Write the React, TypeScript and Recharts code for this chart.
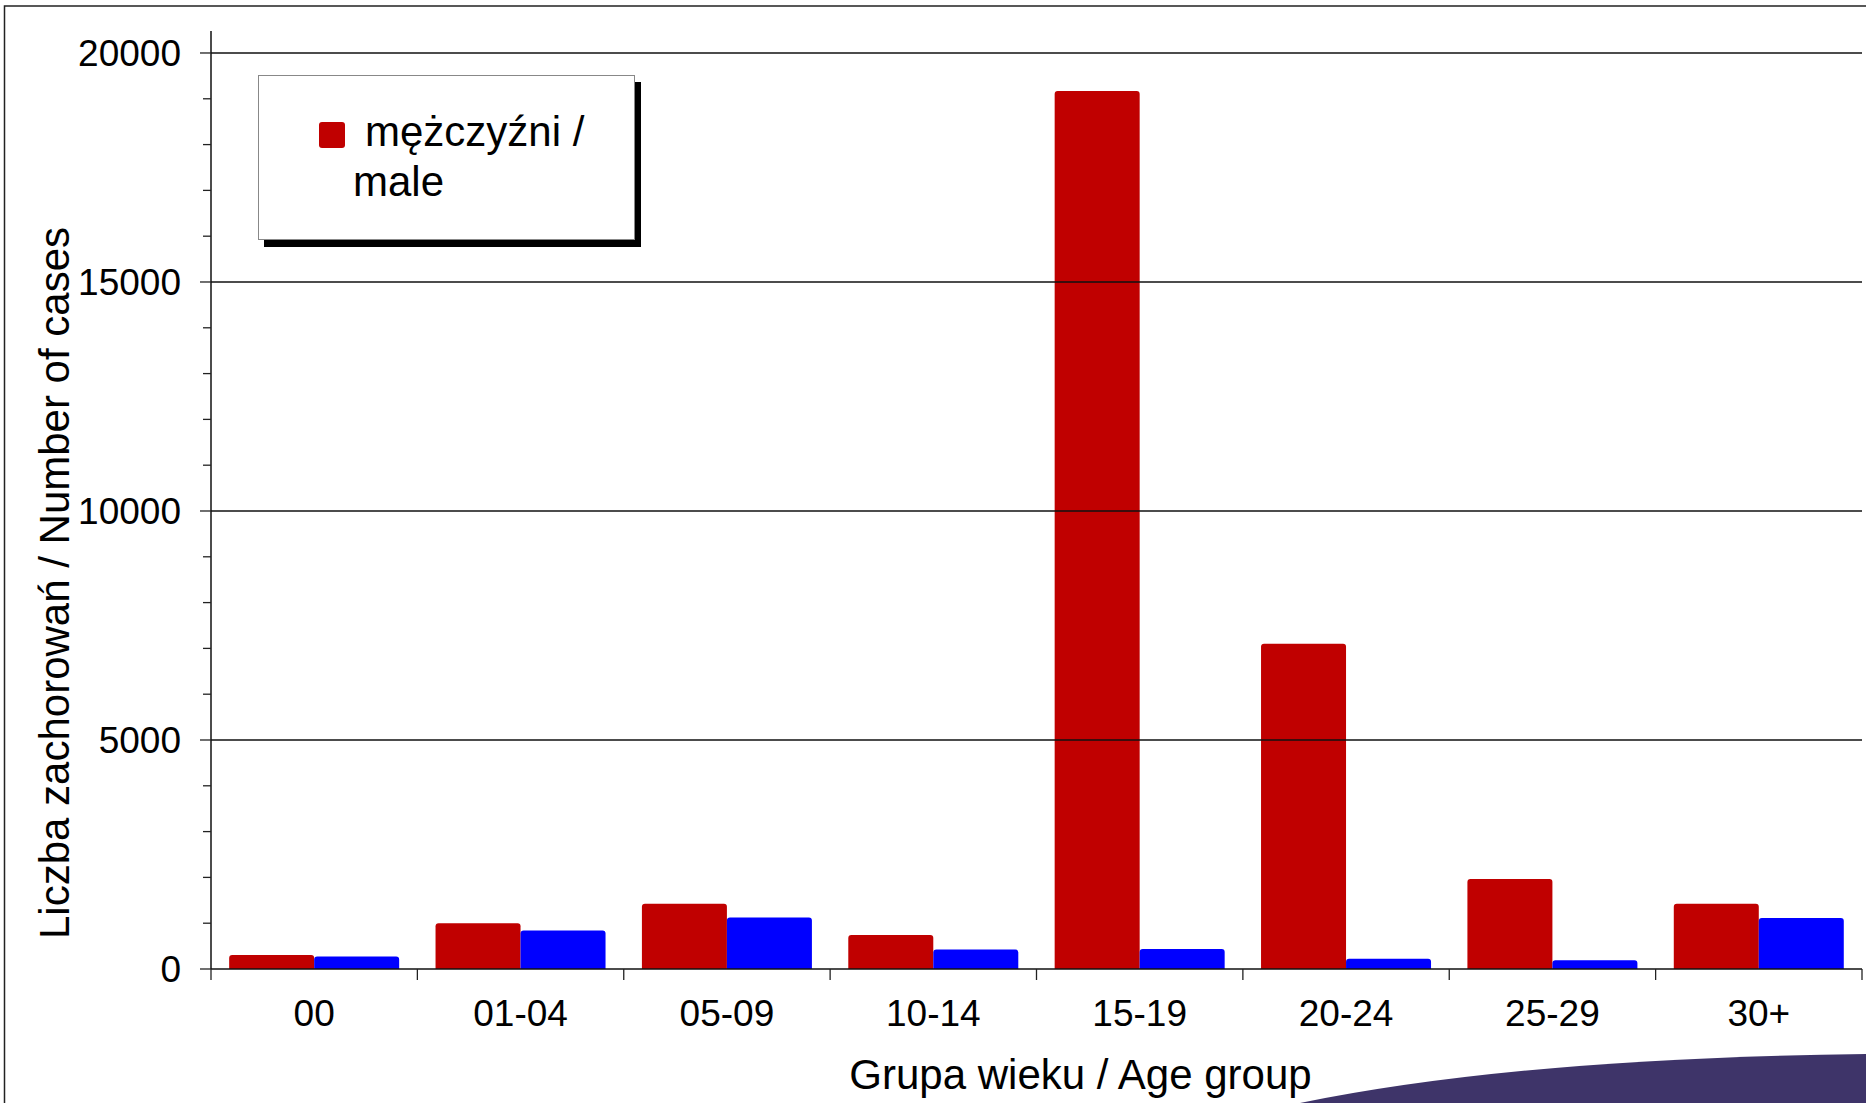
import React from 'react';
import { BarChart, Bar, XAxis, YAxis, ReferenceLine } from 'recharts';

const ageGroups = ['00', '01-04', '05-09', '10-14', '15-19', '20-24', '25-29', '30+'];
const maleCases = [305, 1000, 1425, 740, 19170, 7100, 1965, 1425];
const femaleCases = [275, 840, 1125, 425, 435, 225, 190, 1115];
const yTicks = [0, 1000, 2000, 3000, 4000, 5000, 6000, 7000, 8000, 9000, 10000, 11000, 12000, 13000, 14000, 15000, 16000, 17000, 18000, 19000, 20000];
const gridValues = [5000, 10000, 15000, 20000];

const data = ageGroups.map((g, i) => ({ group: g, male: maleCases[i], female: femaleCases[i] }));

const W = 1866;
const H = 1103;
const MARGIN = { top: 31, right: 4, left: 0, bottom: 0 };
const Y_AXIS_W = 211;
const X_AXIS_H = 134;
const BAND = (W - MARGIN.left - MARGIN.right - Y_AXIS_W) / ageGroups.length;
const FONT = '"Liberation Sans", Arial, sans-serif';

// y ticks: every 1000 a small tick, labels only on the 5000s
function YTick(props: any) {
  const { x, y, payload } = props;
  const axisX = x + 32;
  const major = payload.value % 5000 === 0;
  return (
    <g>
      <line x1={axisX - (major ? 11 : 8)} x2={axisX} y1={y} y2={y} stroke="#222" strokeWidth={1.3} />
      {major && (
        <text x={x + 2} y={y} dy="0.36em" textAnchor="end" fontSize={37} fontFamily={FONT} fill="#000">
          {payload.value}
        </text>
      )}
    </g>
  );
}

// x ticks sit on category borders, label in the middle
function XTick(props: any) {
  const { x, y, payload, index } = props;
  const axisY = y - 11;
  const left = x - BAND / 2;
  return (
    <g>
      <line x1={left} x2={left} y1={axisY} y2={axisY + 11} stroke="#222" strokeWidth={1.3} />
      {index === ageGroups.length - 1 && (
        <line x1={x + BAND / 2} x2={x + BAND / 2} y1={axisY} y2={axisY + 11} stroke="#222" strokeWidth={1.3} />
      )}
      <text x={x} y={axisY + 57} textAnchor="middle" fontSize={37} fontFamily={FONT} fill="#000">
        {payload.value}
      </text>
    </g>
  );
}

function YTitle(props: any) {
  const vb = props.viewBox;
  const cx = vb.x + 69;
  const cy = vb.y + vb.height / 2 + 83;
  return (
    <text x={cx} y={cy} transform={`rotate(-90, ${cx}, ${cy})`} textAnchor="middle" fontSize={42} fontFamily={FONT} fill="#000">
      Liczba zachorowań / Number of cases
    </text>
  );
}

function XTitle(props: any) {
  const vb = props.viewBox;
  return (
    <text x={vb.x + vb.width / 2 + 44} y={vb.y + 120} textAnchor="middle" fontSize={42} fontFamily={FONT} fill="#000">
      Grupa wieku / Age group
    </text>
  );
}

export default function App() {
  return (
    <div style={{ position: 'absolute', left: 0, top: 0, width: W, height: H, background: '#fff', overflow: 'hidden' }}>
      <BarChart width={W} height={H} data={data} margin={MARGIN} barCategoryGap="8.8%" barGap={0}>
        {gridValues.map(v => (
          <ReferenceLine key={v} y={v} stroke="#111" strokeWidth={1.3} />
        ))}
        <XAxis
          dataKey="group"
          height={X_AXIS_H}
          tickLine={false}
          tickSize={11}
          tickMargin={0}
          interval={0}
          axisLine={{ stroke: '#111', strokeWidth: 1.5 }}
          tick={<XTick />}
          label={<XTitle />}
        />
        <YAxis
          width={Y_AXIS_W}
          domain={[0, 20480]}
          ticks={yTicks}
          interval={0}
          tickLine={false}
          tickSize={11}
          tickMargin={21}
          axisLine={{ stroke: '#111', strokeWidth: 1.5 }}
          tick={<YTick />}
          label={<YTitle />}
        />
        <Bar dataKey="male" name="mężczyźni / male" fill="#C00000" radius={[3, 3, 0, 0]} isAnimationActive={false} />
        <Bar dataKey="female" name="kobiety / female" fill="#0000FF" radius={[3, 3, 0, 0]} isAnimationActive={false} />
      </BarChart>

      {/* legend box, only the male entry is visible */}
      <div
        style={{
          position: 'absolute', left: 258, top: 75, width: 375, height: 163,
          border: '1px solid #888', background: '#fff', boxShadow: '6px 7px 0 #000',
          fontFamily: FONT, fontSize: 42, color: '#000',
        }}
      >
        <div style={{ position: 'absolute', left: 60, top: 46, width: 26, height: 26, background: '#C00000', borderRadius: 3 }} />
        <div style={{ position: 'absolute', left: 106, top: 32, lineHeight: '48px', whiteSpace: 'nowrap' }}>mężczyźni /</div>
        <div style={{ position: 'absolute', left: 94, top: 82, lineHeight: '48px', whiteSpace: 'nowrap' }}>male</div>
      </div>

      {/* slide frame + swoosh */}
      <svg width={W} height={H} style={{ position: 'absolute', left: 0, top: 0, pointerEvents: 'none' }}>
        <path d={`M 4.5 ${H} L 4.5 6 L ${W} 6`} fill="none" stroke="#222" strokeWidth={1.5} />
        <path d={`M 1300 ${H} Q 1520 1058 ${W} 1054 L ${W} ${H} Z`} fill="#3E3469" />
      </svg>
    </div>
  );
}
